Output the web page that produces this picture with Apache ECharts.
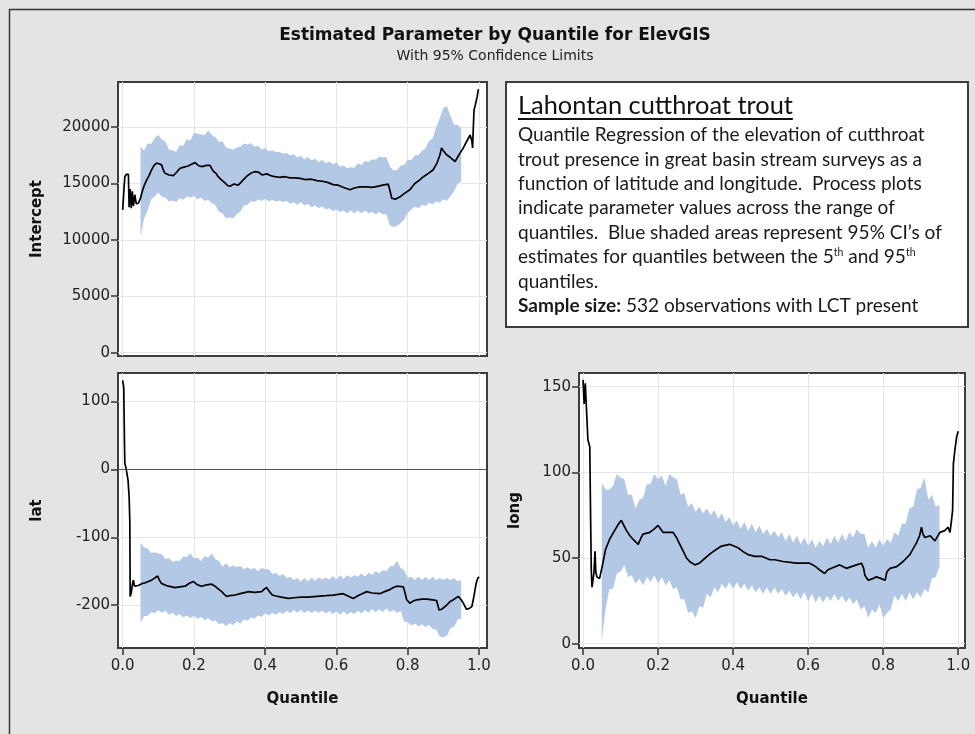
<!DOCTYPE html>
<html>
<head>
<meta charset="utf-8">
<script src="https://cdn.jsdelivr.net/npm/echarts@6/dist/echarts.min.js"></script>
<style>
  html, body { margin: 0; padding: 0; background: #e4e4e4; }
  #chart { width: 975px; height: 734px; }
</style>
</head>
<body>
<div id="chart"></div>
<script>
var chart = echarts.init(document.getElementById('chart'));

// quantile ticks shared by the x axes
var quantileTicks = [0, 0.2, 0.4, 0.6, 0.8, 1.0];
var interceptTicks = [0, 5000, 10000, 15000, 20000];
var latTicks = [-200, -100, 0, 100];
var longTicks = [0, 50, 100, 150];

// quantiles where the 95% limits are drawn (5th to 95th)
var bandQ = [0.05, 0.06, 0.07, 0.08, 0.09, 0.10, 0.11, 0.12, 0.13, 0.14,
  0.15, 0.16, 0.17, 0.18, 0.19, 0.20, 0.21, 0.22, 0.23, 0.24,
  0.25, 0.26, 0.27, 0.28, 0.29, 0.30, 0.31, 0.32, 0.33, 0.34,
  0.35, 0.36, 0.37, 0.38, 0.39, 0.40, 0.41, 0.42, 0.43, 0.44,
  0.45, 0.46, 0.47, 0.48, 0.49, 0.50, 0.51, 0.52, 0.53, 0.54,
  0.55, 0.56, 0.57, 0.58, 0.59, 0.60, 0.61, 0.62, 0.63, 0.64,
  0.65, 0.66, 0.67, 0.68, 0.69, 0.70, 0.71, 0.72, 0.73, 0.74,
  0.75, 0.76, 0.77, 0.78, 0.79, 0.80, 0.81, 0.82, 0.83, 0.84,
  0.85, 0.86, 0.87, 0.88, 0.89, 0.90, 0.91, 0.92, 0.93, 0.94, 0.95];

// Intercept
var interceptUpper = [18270, 17900, 18550, 18500, 19050, 19300, 18900, 18700, 18000, 17950,
  17800, 18400, 18350, 18950, 18800, 19500, 19400, 19350, 19300, 19700,
  19300, 19100, 18700, 18750, 18200, 18100, 18000, 18200, 18250, 18550,
  18450, 18600, 18250, 18350, 18000, 18150, 17850, 17950, 17800, 17800,
  17650, 17700, 17500, 17600, 17300, 17450, 17150, 17350, 17050, 17200,
  16900, 17100, 16800, 16950, 16700, 16850, 16500, 16600, 16350, 16450,
  16400, 16800, 16650, 17000, 16900, 17150, 17100, 17400, 17300, 17350,
  16500, 16150, 16200, 16600, 16650, 17100, 17050, 17500, 17500, 17900,
  18100, 18800, 19000, 20000, 20800, 21700, 21850, 21000, 20200, 20200, 19900];
var interceptLower = [10300, 11900, 12600, 13600, 13850, 14200, 13800, 13750, 13400, 13500,
  13350, 13700, 13550, 13850, 13750, 13900, 13600, 13750, 13450, 13550,
  13250, 13100, 12500, 12350, 11900, 12000, 11900, 12300, 12500, 13050,
  13100, 13450, 13350, 13600, 13450, 13650, 13400, 13550, 13400, 13500,
  13350, 13450, 13200, 13350, 13100, 13350, 13050, 13200, 12900, 13050,
  12800, 12950, 12700, 12800, 12550, 12700, 12450, 12600, 12350, 12600,
  12350, 12600, 12350, 12600, 12350, 12500, 12250, 12500, 12250, 12300,
  11300, 11150, 11250, 11500, 11800, 12400, 12700, 12950, 12800, 13100,
  13000, 13300, 13150, 13400, 13300, 13600, 13450, 13900, 14300, 15000, 15200];
var interceptEst = [[0, 12660], [0.003, 14200], [0.006, 15600], [0.01, 15800], [0.016, 15800],
  [0.018, 12900], [0.021, 14500], [0.024, 12800], [0.027, 14300], [0.03, 13000], [0.034, 14000],
  [0.038, 13200], [0.044, 13250], [0.05, 13700], [0.055, 14300], [0.06, 14800], [0.067, 15300],
  [0.074, 15700], [0.081, 16200], [0.088, 16600], [0.095, 16800], [0.102, 16750], [0.109, 16650],
  [0.115, 16100], [0.119, 15900], [0.13, 15750], [0.142, 15700], [0.15, 15950], [0.161, 16350],
  [0.172, 16450], [0.184, 16550], [0.193, 16700], [0.203, 16850], [0.212, 16600], [0.222, 16500],
  [0.235, 16600], [0.245, 16600], [0.254, 16100], [0.262, 15900], [0.268, 15600], [0.278, 15300],
  [0.287, 15050], [0.295, 14800], [0.301, 14750], [0.312, 14950], [0.324, 14850], [0.332, 15100],
  [0.339, 15350], [0.35, 15700], [0.362, 15950], [0.372, 16050], [0.381, 16000], [0.392, 15750],
  [0.404, 15850], [0.415, 15700], [0.427, 15600], [0.44, 15550], [0.455, 15600], [0.47, 15500],
  [0.484, 15500], [0.498, 15450], [0.512, 15350], [0.53, 15380], [0.545, 15250], [0.56, 15200],
  [0.575, 15100], [0.591, 14900], [0.605, 14850], [0.62, 14650], [0.638, 14450], [0.65, 14600],
  [0.665, 14700], [0.685, 14700], [0.7, 14650], [0.715, 14750], [0.73, 14850], [0.745, 14950],
  [0.75, 14400], [0.755, 13700], [0.765, 13600], [0.78, 13850], [0.79, 14100], [0.806, 14450],
  [0.82, 15000], [0.833, 15300], [0.844, 15600], [0.858, 15900], [0.871, 16200], [0.882, 16800],
  [0.89, 17500], [0.895, 18150], [0.9, 17900], [0.909, 17550], [0.92, 17300], [0.933, 16950],
  [0.945, 17600], [0.956, 18150], [0.965, 18700], [0.975, 19300], [0.98, 18800], [0.982, 18150],
  [0.986, 21500], [0.99, 22000], [0.995, 22700], [0.998, 23300], [1.0, 23300]];

// lat
var latUpper = [-108, -115, -116, -123, -122, -124, -125, -132, -131, -136,
  -134, -135, -128, -129, -123, -131, -130, -135, -128, -130,
  -124, -132, -135, -143, -138, -144, -141, -144, -142, -147,
  -144, -147, -145, -150, -145, -147, -147, -154, -152, -157,
  -154, -160, -158, -163, -160, -165, -160, -165, -159, -164,
  -159, -162, -159, -162, -157, -162, -156, -161, -156, -159,
  -156, -158, -153, -158, -152, -155, -150, -153, -148, -150,
  -143, -142, -135, -145, -148, -160, -158, -163, -158, -163,
  -158, -163, -158, -163, -160, -163, -160, -163, -160, -165, -162];
var latLower = [-226, -216, -216, -210, -212, -207, -211, -208, -214, -211,
  -216, -213, -218, -215, -219, -216, -220, -217, -222, -219,
  -224, -222, -228, -226, -231, -226, -229, -224, -227, -221,
  -223, -218, -220, -215, -217, -212, -215, -211, -214, -210,
  -213, -208, -212, -207, -211, -207, -211, -208, -211, -208,
  -211, -208, -212, -209, -213, -209, -214, -209, -214, -210,
  -213, -208, -212, -207, -211, -206, -210, -206, -210, -205,
  -210, -207, -211, -208, -224, -225, -230, -227, -231, -228,
  -232, -229, -235, -236, -246, -247, -245, -234, -232, -221, -220];
var latEst = [[0, 131], [0.003, 120], [0.005, 40], [0.006, 9], [0.01, 0], [0.015, -16],
  [0.018, -40], [0.02, -77], [0.021, -187], [0.024, -182], [0.027, -170], [0.03, -163],
  [0.033, -172], [0.044, -171], [0.055, -168], [0.063, -167], [0.072, -165], [0.081, -163],
  [0.09, -160], [0.098, -157], [0.103, -163], [0.109, -168], [0.118, -170], [0.128, -172],
  [0.138, -173], [0.147, -174], [0.16, -173], [0.175, -172], [0.186, -168], [0.198, -165],
  [0.21, -170], [0.222, -172], [0.235, -170], [0.25, -169], [0.259, -172], [0.268, -176],
  [0.278, -180], [0.285, -184], [0.292, -187], [0.3, -186], [0.315, -185], [0.33, -183],
  [0.345, -181], [0.353, -180], [0.37, -181], [0.39, -180], [0.398, -176], [0.404, -174],
  [0.412, -180], [0.42, -185], [0.427, -186], [0.445, -188], [0.465, -190], [0.48, -189],
  [0.502, -188], [0.52, -188], [0.545, -187], [0.57, -186], [0.591, -185], [0.605, -184],
  [0.619, -183], [0.635, -187], [0.647, -190], [0.66, -186], [0.672, -183], [0.685, -180],
  [0.7, -182], [0.722, -183], [0.735, -180], [0.75, -177], [0.76, -174], [0.769, -172],
  [0.788, -173], [0.793, -183], [0.797, -192], [0.806, -197], [0.815, -194], [0.825, -192],
  [0.84, -191], [0.853, -191], [0.87, -192], [0.881, -193], [0.886, -193], [0.888, -207],
  [0.895, -206], [0.9, -207], [0.909, -200], [0.918, -195], [0.928, -192], [0.942, -187],
  [0.95, -192], [0.956, -197], [0.965, -206], [0.972, -205], [0.98, -202], [0.984, -192],
  [0.988, -180], [0.992, -168], [0.996, -161], [1.0, -158]];

// long
var longUpper = [94, 90, 90, 92, 99, 97, 96, 87, 87, 79,
  84, 85, 93, 93, 99, 96, 98, 92, 99, 97,
  96, 87, 88, 80, 82, 77, 80, 76, 79, 75,
  78, 73, 76, 71, 74, 69, 72, 67, 71, 66,
  70, 65, 69, 64, 67, 63, 66, 62, 65, 60,
  64, 59, 63, 58, 62, 57, 61, 56, 60, 57,
  62, 58, 63, 59, 64, 60, 65, 62, 67, 64,
  64, 56, 60, 56, 61, 57, 61, 59, 65, 63,
  70, 70, 79, 80, 90, 91, 97, 84, 87, 80, 81];
var longLower = [2, 20, 32, 32, 41, 42, 46, 39, 40, 35,
  38, 34, 39, 36, 40, 35, 39, 34, 37, 32,
  33, 26, 26, 18, 19, 15, 22, 21, 29, 27,
  33, 30, 35, 32, 36, 32, 36, 32, 35, 31,
  34, 30, 33, 29, 33, 29, 33, 29, 32, 28,
  31, 27, 30, 26, 30, 25, 29, 24, 28, 24,
  28, 25, 29, 25, 28, 24, 27, 23, 26, 20,
  22, 15, 20, 18, 23, 15, 18, 20, 28, 25,
  29, 25, 30, 26, 30, 27, 32, 30, 38, 39, 45];
var longEst = [[0, 154], [0.003, 140], [0.006, 152], [0.009, 138], [0.013, 119], [0.018, 115],
  [0.02, 78], [0.022, 43], [0.024, 33], [0.027, 38], [0.029, 41], [0.032, 54], [0.034, 42],
  [0.037, 39], [0.044, 38], [0.051, 45], [0.06, 55], [0.071, 61], [0.084, 66], [0.095, 70],
  [0.102, 72], [0.109, 69], [0.116, 66], [0.125, 63], [0.133, 61], [0.147, 58], [0.155, 62],
  [0.16, 64], [0.178, 65], [0.19, 67], [0.2, 69], [0.207, 67], [0.213, 65], [0.24, 65],
  [0.249, 62], [0.258, 58], [0.267, 54], [0.276, 50], [0.284, 48], [0.298, 46], [0.31, 47],
  [0.32, 49], [0.342, 53], [0.355, 55], [0.369, 57], [0.391, 58], [0.402, 57], [0.413, 56],
  [0.425, 54], [0.44, 52], [0.458, 51], [0.476, 51], [0.498, 49], [0.511, 49], [0.533, 48],
  [0.569, 47], [0.604, 47], [0.62, 45], [0.631, 43], [0.644, 41], [0.652, 43], [0.662, 44],
  [0.684, 46], [0.702, 44], [0.715, 45], [0.729, 46], [0.742, 47], [0.748, 44], [0.751, 40],
  [0.76, 37], [0.772, 38], [0.782, 39], [0.795, 38], [0.805, 37], [0.81, 42], [0.818, 44],
  [0.836, 45], [0.853, 48], [0.871, 52], [0.889, 59], [0.897, 63], [0.902, 68], [0.906, 64],
  [0.911, 62], [0.925, 63], [0.938, 60], [0.951, 65], [0.964, 66], [0.973, 68], [0.978, 65],
  [0.982, 72], [0.985, 78], [0.987, 105], [0.991, 113], [0.996, 121], [1.0, 124]];

var BAND = '#b3c8e5';
var FONT = 'DejaVu Sans, Liberation Sans, Arial, sans-serif';
var BOX_FONT = 'Lato, Open Sans, sans-serif';

var panels = [
  { name: 'Intercept', grid: { left: 118, top: 82, width: 369, height: 274 }, xRange: [-0.0132, 1.0225],
    yRange: [-300, 24000], yTicks: interceptTicks, nameGap: 73, showX: false,
    est: interceptEst, lo: interceptLower, hi: interceptUpper },
  { name: 'lat', grid: { left: 118, top: 373, width: 369, height: 275 }, xRange: [-0.0132, 1.0225],
    yRange: [-263, 142], yTicks: latTicks, nameGap: 73, showX: true, zeroLine: true,
    est: latEst, lo: latLower, hi: latUpper },
  { name: 'long', grid: { left: 579, top: 373, width: 386, height: 275 }, xRange: [-0.0107, 1.018],
    yRange: [-2.5, 158], yTicks: longTicks, nameGap: 56, showX: true,
    est: longEst, lo: longLower, hi: longUpper }
];

// band polygon: upper limits left to right, then lower limits back
function bandRenderer(p) {
  return function (params, api) {
    if (params.dataIndex !== 0) return null;
    var pts = [];
    for (var k = 0; k < bandQ.length; k++) pts.push(api.coord([bandQ[k], p.hi[k]]));
    for (var k2 = bandQ.length - 1; k2 >= 0; k2--) pts.push(api.coord([bandQ[k2], p.lo[k2]]));
    return { type: 'polygon', shape: { points: pts }, style: { fill: BAND }, silent: true };
  };
}

var grids = [], xAxes = [], yAxes = [], series = [];
panels.forEach(function (p, i) {
  grids.push(Object.assign({ show: true, backgroundColor: '#fff', borderColor: '#3c3c3c', borderWidth: 2 }, p.grid));
  xAxes.push({
    type: 'value', gridIndex: i, min: p.xRange[0], max: p.xRange[1],
    name: p.showX ? 'Quantile' : '', nameLocation: 'middle', nameGap: 44,
    nameTextStyle: { fontFamily: FONT, fontWeight: 'bold', fontSize: 15, color: '#111' },
    axisLine: { show: false, onZero: false },
    axisTick: { show: p.showX, length: 7, customValues: quantileTicks, lineStyle: { color: '#333', width: 1.5 } },
    axisLabel: { show: p.showX, customValues: quantileTicks, margin: 11, fontFamily: FONT, fontSize: 15, color: '#222',
      formatter: function (v) { return v.toFixed(1); } },
    splitLine: { show: true, lineStyle: { color: '#e6e6e6', width: 1 } }
  });
  yAxes.push({
    type: 'value', gridIndex: i, min: p.yRange[0], max: p.yRange[1],
    name: p.name, nameLocation: 'middle', nameGap: p.nameGap,
    nameTextStyle: { fontFamily: FONT, fontWeight: 'bold', fontSize: 15, color: '#111' },
    axisLine: { show: false, onZero: false },
    axisTick: { show: true, length: 7, customValues: p.yTicks, lineStyle: { color: '#333', width: 1.5 } },
    axisLabel: { customValues: p.yTicks, margin: 8, fontFamily: FONT, fontSize: 15, color: '#222',
      formatter: function (v) { return String(v); } },
    splitLine: { show: true, lineStyle: { color: '#e6e6e6', width: 1 } }
  });
  series.push({
    type: 'custom', xAxisIndex: i, yAxisIndex: i, silent: true, animation: false,
    data: bandQ.map(function (q, k) { return [q, p.lo[k], p.hi[k]]; }),
    encode: { x: 0, y: [1, 2] },
    renderItem: bandRenderer(p)
  });
  var est = {
    type: 'line', xAxisIndex: i, yAxisIndex: i, data: p.est,
    symbol: 'none', lineStyle: { color: '#000', width: 1.7 }, animation: false
  };
  if (p.zeroLine) {
    est.markLine = {
      silent: true, symbol: 'none', label: { show: false },
      lineStyle: { color: '#555', width: 1.2, type: 'solid' },
      data: [{ yAxis: 0 }]
    };
  }
  series.push(est);
});

// text box (fits the Calibri-like text to the box width)
function textWidth(text, font) {
  var ctx = document.createElement('canvas').getContext('2d');
  ctx.font = font;
  return ctx.measureText(text).width;
}
var boxTitle = 'Lahontan cutthroat trout';
var boxLines = [
  'Quantile Regression of the elevation of cutthroat',
  'trout presence in great basin stream surveys as a',
  'function of latitude and longitude.  Process plots',
  'indicate parameter values across the range of',
  'quantiles.  Blue shaded areas represent 95% CI\u2019s of',
  'estimates for quantiles between the 5{s|th} and 95{s|th}',
  'quantiles.',
  '{b|Sample size:} 532 observations with LCT present'
];
var bodySize = 16 * 407 / textWidth(boxLines[0], '16px ' + BOX_FONT);
var titleSize = 22 * 275 / textWidth(boxTitle, '22px ' + BOX_FONT);
var titleW = textWidth(boxTitle, titleSize + 'px ' + BOX_FONT);

var graphics = [
  { type: 'rect', left: 7, top: 7, shape: { width: 990, height: 750 }, silent: true,
    style: { fill: 'none', stroke: '#333', lineWidth: 1.5 } },
  { type: 'text', x: 495, y: 36, style: { text: 'Estimated Parameter by Quantile for ElevGIS',
    font: 'bold 17px ' + FONT, fill: '#111', textAlign: 'center', textVerticalAlign: 'middle' } },
  { type: 'text', x: 495, y: 56, style: { text: 'With 95% Confidence Limits',
    font: '14px ' + FONT, fill: '#222', textAlign: 'center', textVerticalAlign: 'middle' } },
  { type: 'rect', shape: { x: 506, y: 82, width: 462, height: 245 }, silent: true,
    style: { fill: '#fff', stroke: '#3c3c3c', lineWidth: 2 } },
  { type: 'text', x: 518, y: 106, style: { text: boxTitle, font: titleSize + 'px ' + BOX_FONT,
    fill: '#111', textAlign: 'left', textVerticalAlign: 'middle' } },
  { type: 'line', shape: { x1: 518, y1: 119, x2: 518 + titleW, y2: 119 }, silent: true,
    style: { stroke: '#111', lineWidth: 1.8 } }
];
boxLines.forEach(function (line, k) {
  graphics.push({
    type: 'text', x: 518, y: 135 + k * 24.4,
    style: {
      text: line, fontFamily: BOX_FONT, fontSize: bodySize, fill: '#1a1a1a',
      textAlign: 'left', textVerticalAlign: 'middle',
      rich: {
        s: { fontFamily: BOX_FONT, fontSize: bodySize * 0.55, fill: '#1a1a1a', verticalAlign: 'top' },
        b: { fontFamily: BOX_FONT, fontSize: bodySize, fontWeight: 'bold', fill: '#1a1a1a' }
      }
    }
  });
});

var option = {
  backgroundColor: '#e4e4e4',
  animation: false,
  grid: grids,
  xAxis: xAxes,
  yAxis: yAxes,
  series: series,
  graphic: graphics
};
chart.setOption(option);
</script>
</body>
</html>
